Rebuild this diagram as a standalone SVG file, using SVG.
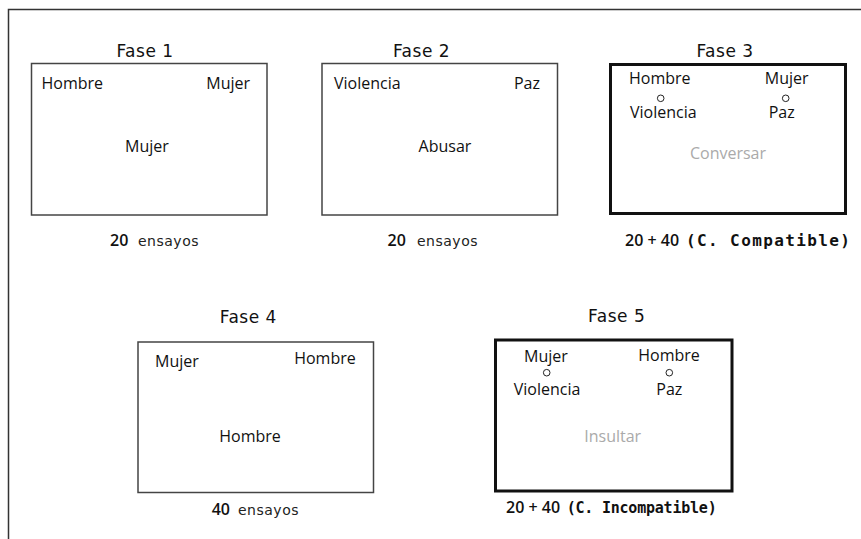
<svg xmlns="http://www.w3.org/2000/svg" width="861" height="539" viewBox="0 0 861 539">
<style>
.frame{fill:none;stroke:#333;stroke-width:1.5}
.box{fill:#fff;stroke:#444;stroke-width:1.5}
.thick{fill:#fff;stroke:#111;stroke-width:3}
.title{font-family:"DejaVu Sans",Verdana,sans-serif;font-size:17px;fill:#111;text-anchor:middle;letter-spacing:0.5px}
.lbl{font-family:"Open Sans","Noto Sans",sans-serif;font-size:16px;font-weight:500;fill:#111}
.grey{font-family:"Open Sans","Noto Sans",sans-serif;font-size:16px;fill:#aaa;text-anchor:middle}
.num{font-family:"Open Sans","Noto Sans",sans-serif;font-size:16px;font-weight:600;fill:#111}
.ens{font-family:"DejaVu Sans",Verdana,sans-serif;font-size:14px;fill:#222;letter-spacing:0.5px}
.mono{font-family:"DejaVu Sans Mono","Liberation Mono",monospace;font-size:16px;font-weight:bold;fill:#111}
.dot{fill:#fff;stroke:#222;stroke-width:1}
.m{text-anchor:middle}
.e{text-anchor:end}
</style>
<g id="frame">
<path class="frame" d="M8.5 539 V9.5 H861"/>
</g>
<g id="connectors"></g>
<g id="fase1">
<text class="title" x="145" y="57">Fase 1</text>
<rect class="box" x="31.5" y="63.5" width="235.5" height="151.5"/>
<text class="lbl" x="41.5" y="89">Hombre</text>
<text class="lbl e" x="250" y="89">Mujer</text>
<text class="lbl m" x="147" y="152">Mujer</text>
<text class="num" x="110" y="246">20</text>
<text class="ens" x="138" y="246">ensayos</text>
</g>
<g id="fase2">
<text class="title" x="421.5" y="57">Fase 2</text>
<rect class="box" x="322" y="63.5" width="235.5" height="151.5"/>
<text class="lbl" x="334" y="89">Violencia</text>
<text class="lbl e" x="540" y="89">Paz</text>
<text class="lbl m" x="445" y="152">Abusar</text>
<text class="num" x="387.5" y="246">20</text>
<text class="ens" x="417" y="246">ensayos</text>
</g>
<g id="fase3">
<text class="title" x="725" y="57">Fase 3</text>
<rect class="thick" x="610.5" y="64.5" width="235" height="149"/>
<text class="lbl" x="629" y="84">Hombre</text>
<text class="lbl e" x="808.5" y="84">Mujer</text>
<circle class="dot" cx="660.7" cy="98.3" r="3.3"/>
<circle class="dot" cx="785.7" cy="98.3" r="3.3"/>
<text class="lbl" x="630" y="118">Violencia</text>
<text class="lbl m" x="781.7" y="118">Paz</text>
<text class="grey" x="728" y="159">Conversar</text>
<text class="num" x="625" y="246">20 + 40</text>
<text class="mono" x="686" y="246" textLength="164" lengthAdjust="spacing">(C. Compatible)</text>
</g>
<g id="fase4">
<text class="title" x="248.3" y="322.5">Fase 4</text>
<rect class="box" x="138" y="342" width="235.5" height="150.5"/>
<text class="lbl" x="155" y="366.5">Mujer</text>
<text class="lbl e" x="355.7" y="364">Hombre</text>
<text class="lbl m" x="250" y="441.5">Hombre</text>
<text class="num" x="211.7" y="515">40</text>
<text class="ens" x="238" y="515">ensayos</text>
</g>
<g id="fase5">
<text class="title" x="616.7" y="321.7">Fase 5</text>
<rect class="thick" x="495.5" y="340" width="236.5" height="151"/>
<text class="lbl m" x="546" y="361.5">Mujer</text>
<text class="lbl m" x="669" y="361">Hombre</text>
<circle class="dot" cx="546.7" cy="372.7" r="3.3"/>
<circle class="dot" cx="669.3" cy="372.7" r="3.3"/>
<text class="lbl m" x="547" y="395">Violencia</text>
<text class="lbl m" x="669.3" y="395">Paz</text>
<text class="grey" x="612.7" y="441.5">Insultar</text>
<text class="num" x="506" y="513.3">20 + 40</text>
<text class="mono" x="566.7" y="513.3" style="font-size:15px" textLength="150" lengthAdjust="spacing">(C. Incompatible)</text>
</g>
</svg>
